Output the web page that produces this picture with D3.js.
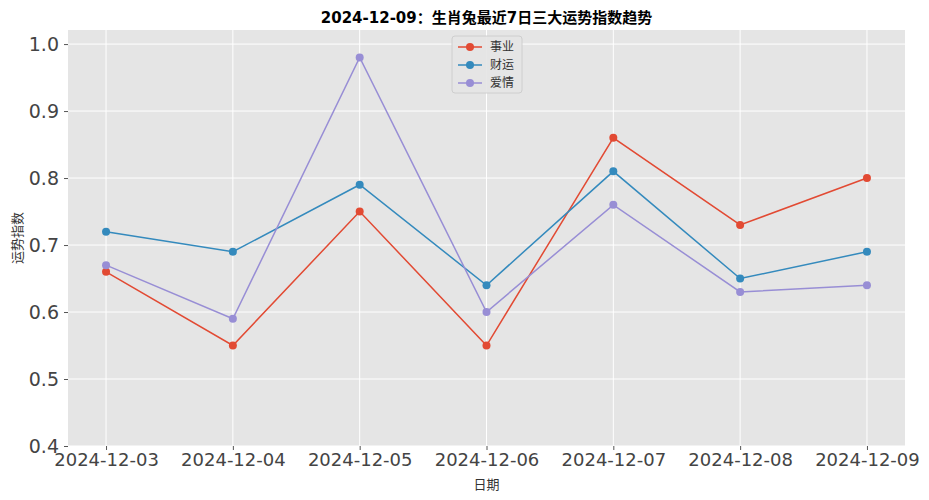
<!DOCTYPE html><html><head><meta charset="utf-8">
<script src="https://cdn.jsdelivr.net/npm/d3@7"></script>
<style>body{margin:0;background:#fff}text{font-family:"DejaVu Sans","Noto Sans CJK SC",sans-serif}</style></head><body>
<svg id="c" width="929" height="500"></svg>
<script>
const dates=["2024-12-03","2024-12-04","2024-12-05","2024-12-06","2024-12-07","2024-12-08","2024-12-09"];
const seriesNames=["事业","财运","爱情"];
const career=[0.66,0.55,0.75,0.55,0.86,0.73,0.80];
const wealth=[0.72,0.69,0.79,0.64,0.81,0.65,0.69];
const love=[0.67,0.59,0.98,0.60,0.76,0.63,0.64];
const yTicks=[0.4,0.5,0.6,0.7,0.8,0.9,1.0];
const colors=["#E24A33","#348ABD","#988ED5"];
const series=[career,wealth,love];
const svg=d3.select("#c");
const L=68,R=905,T=30,B=446;
const x=d3.scaleLinear().domain([-0.3,6.3]).range([L,R]);
const y=d3.scaleLinear().domain([0.4,1.021]).range([B,T]);
svg.append("rect").attr("x",L).attr("y",T).attr("width",R-L).attr("height",B-T).attr("fill","#E5E5E5");
const g=svg.append("g");
yTicks.forEach(v=>g.append("line").attr("x1",L).attr("x2",R).attr("y1",y(v)).attr("y2",y(v)).attr("stroke","#fff").attr("stroke-width",1));
dates.forEach((d,i)=>g.append("line").attr("x1",x(i)).attr("x2",x(i)).attr("y1",T).attr("y2",B).attr("stroke","#fff").attr("stroke-width",1));
const ya=svg.append("g").attr("transform",`translate(${L},0)`).call(d3.axisLeft(y).tickValues(yTicks).tickFormat(d3.format(".1f")).tickSize(4).tickPadding(5));
ya.select(".domain").remove();ya.selectAll("line").attr("stroke","#555");
ya.selectAll("text").attr("font-size",19).attr("fill","#444");
const xa=svg.append("g").attr("transform",`translate(0,${B})`).call(d3.axisBottom(x).tickValues(d3.range(7)).tickFormat(i=>dates[i]).tickSize(4).tickPadding(3));
xa.select(".domain").remove();xa.selectAll("line").attr("stroke","#555");
xa.selectAll("text").attr("font-size",18).attr("fill","#444");
const line=d3.line().x((d,i)=>x(i)).y(d=>y(d));
series.forEach((s,k)=>{
 svg.append("path").attr("d",line(s)).attr("fill","none").attr("stroke",colors[k]).attr("stroke-width",1.5);
 svg.selectAll(null).data(s).enter().append("circle").attr("cx",(d,i)=>x(i)).attr("cy",d=>y(d)).attr("r",4).attr("fill",colors[k]);
});
svg.append("text").attr("x",(L+R)/2).attr("y",23).attr("text-anchor","middle").attr("font-size",15).attr("font-weight","bold").text("2024-12-09：生肖兔最近7日三大运势指数趋势");
svg.append("text").attr("x",(L+R)/2).attr("y",489).attr("text-anchor","middle").attr("font-size",13).attr("fill","#333").text("日期");
svg.append("text").attr("transform","translate(22,238) rotate(-90)").attr("text-anchor","middle").attr("font-size",13).attr("fill","#333").text("运势指数");
const lg=svg.append("g").attr("transform","translate(452,36)");
lg.append("rect").attr("width",70).attr("height",57).attr("rx",3).attr("fill","#E5E5E5").attr("stroke","#ccc").attr("opacity",0.9);
seriesNames.forEach((n,k)=>{
 const yy=11+k*18;
 lg.append("line").attr("x1",6).attr("x2",30).attr("y1",yy).attr("y2",yy).attr("stroke",colors[k]).attr("stroke-width",1.5);
 lg.append("circle").attr("cx",18).attr("cy",yy).attr("r",4).attr("fill",colors[k]);
 lg.append("text").attr("x",38).attr("y",yy+4).attr("font-size",12).attr("fill","#333").text(n);
});
</script></body></html>
